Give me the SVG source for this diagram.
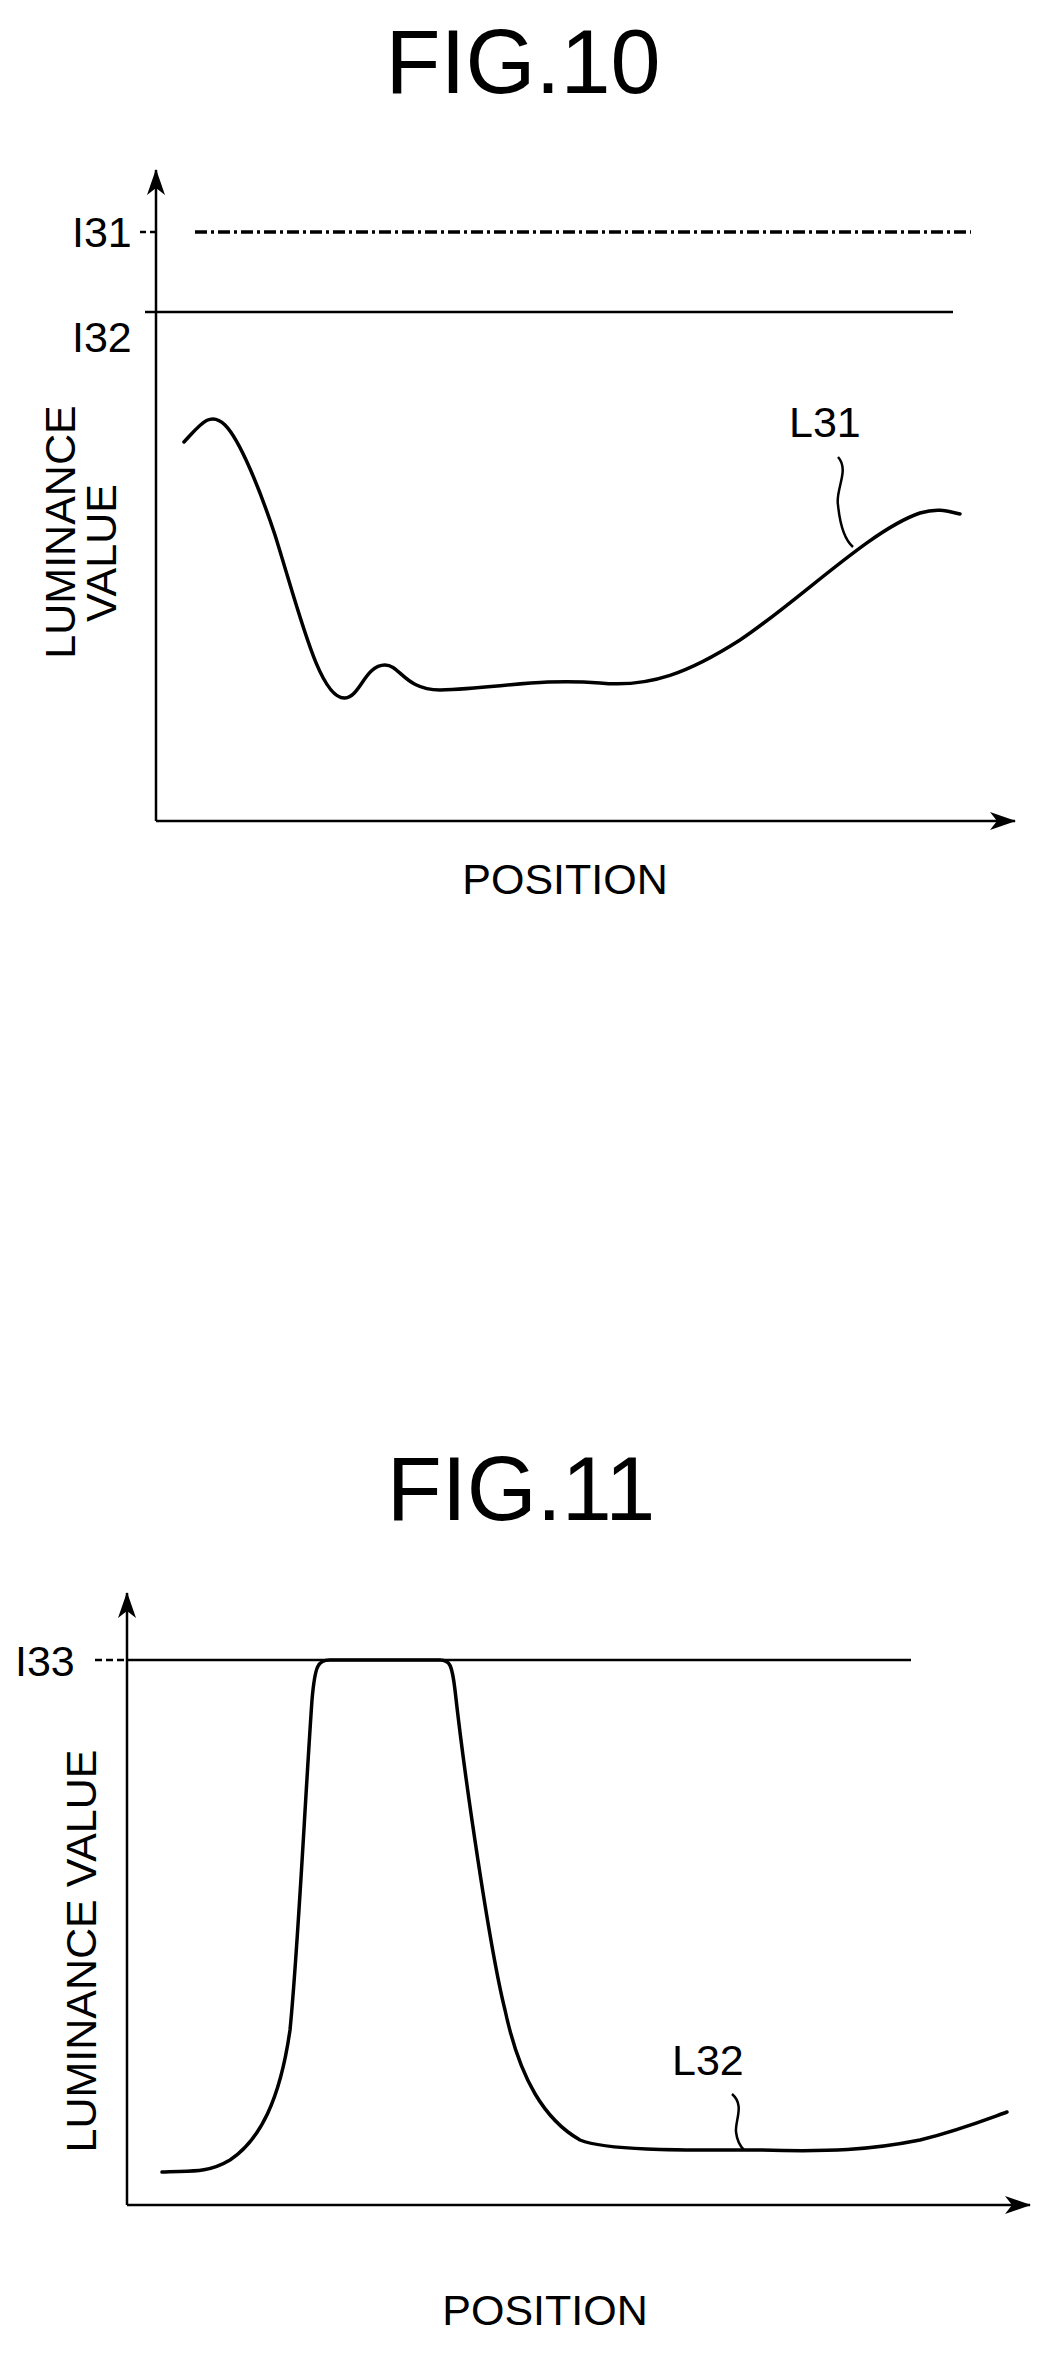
<svg xmlns="http://www.w3.org/2000/svg" width="1056" height="2361" viewBox="0 0 1056 2361">
<style>
text{font-family:"Liberation Sans",Arial,sans-serif;fill:#000}
.t{font-size:90px;text-anchor:middle}
.l{font-size:43px}
.ln{fill:none;stroke:#000;stroke-width:2.5}
.cv{fill:none;stroke:#000;stroke-width:3.5;stroke-linecap:round}
</style>
<defs>
<marker id="ar" viewBox="0 0 26 18" refX="25" refY="9" markerWidth="26" markerHeight="18" markerUnits="userSpaceOnUse" orient="auto">
<path d="M0,0 L26,9 L0,18 L7,9 Z" fill="#000"/>
</marker>
</defs>
<rect width="1056" height="2361" fill="#fff"/>
<g id="fig10">
<text class="t" x="523" y="93">FIG.10</text>
<g id="axes10" class="ln">
<path d="M156,821 V170" marker-end="url(#ar)"/>
<path d="M156,821 H1015" marker-end="url(#ar)"/>
</g>
<g id="i31">
<path d="M140,232 H160" class="ln" stroke-dasharray="6,4"/>
<path d="M195,232 H971" fill="none" stroke="#000" stroke-width="3.5" stroke-dasharray="12,4,3,4"/>
<text class="l" x="72" y="247">I31</text>
</g>
<g id="i32">
<path d="M145,312 H953" class="ln"/>
<text class="l" x="72" y="352">I32</text>
</g>
<text class="l" text-anchor="middle" transform="translate(75,532) rotate(-90)">LUMINANCE</text>
<text class="l" text-anchor="middle" transform="translate(116,553) rotate(-90)">VALUE</text>
<g id="L31">
<path class="cv" d="M184,442 C200,425 210,410 225,425 C240,440 260,490 275,535 C300,615 320,700 345,698 C360,697 365,665 385,665 C400,665 405,690 440,690 C500,688 540,678 600,683 C650,688 690,672 740,640 C800,600 870,530 920,513 C940,507 950,512 960,514"/>
<path class="ln" stroke-width="1.5" d="M838,457 C850,470 835,490 838,505 C840,525 845,540 853,547"/>
<text class="l" x="789" y="437">L31</text>
</g>
<text class="l" text-anchor="middle" x="565" y="894">POSITION</text>
</g>
<g id="fig11">
<text class="t" x="521" y="1520">FIG.11</text>
<g id="axes11" class="ln">
<path d="M127,2205 V1593" marker-end="url(#ar)"/>
<path d="M127,2205 H1030" marker-end="url(#ar)"/>
</g>
<g id="i33">
<path d="M95,1660 H125" class="ln" stroke-dasharray="7,4"/>
<path d="M127,1660 H911" class="ln"/>
<text class="l" x="15" y="1676">I33</text>
</g>
<text class="l" text-anchor="middle" transform="translate(96,1951) rotate(-90)">LUMINANCE VALUE</text>
<g id="L32">
<path class="cv" d="M162,2172 C185,2170 205,2175 230,2160 C260,2140 280,2100 290,2030 C298,1950 305,1800 312,1700 C315,1665 318,1660 330,1660 L440,1660 C450,1660 452,1665 455,1690 C465,1780 490,1950 505,2010 C520,2080 545,2120 580,2140 C610,2152 700,2150 760,2150 C830,2152 870,2150 920,2140 C960,2130 990,2118 1007,2112"/>
<path class="ln" stroke-width="1.5" d="M732,2094 C745,2105 735,2120 736,2132 C737,2140 740,2146 744,2150"/>
<text class="l" x="672" y="2075">L32</text>
</g>
<text class="l" text-anchor="middle" x="545" y="2325">POSITION</text>
</g>
</svg>
